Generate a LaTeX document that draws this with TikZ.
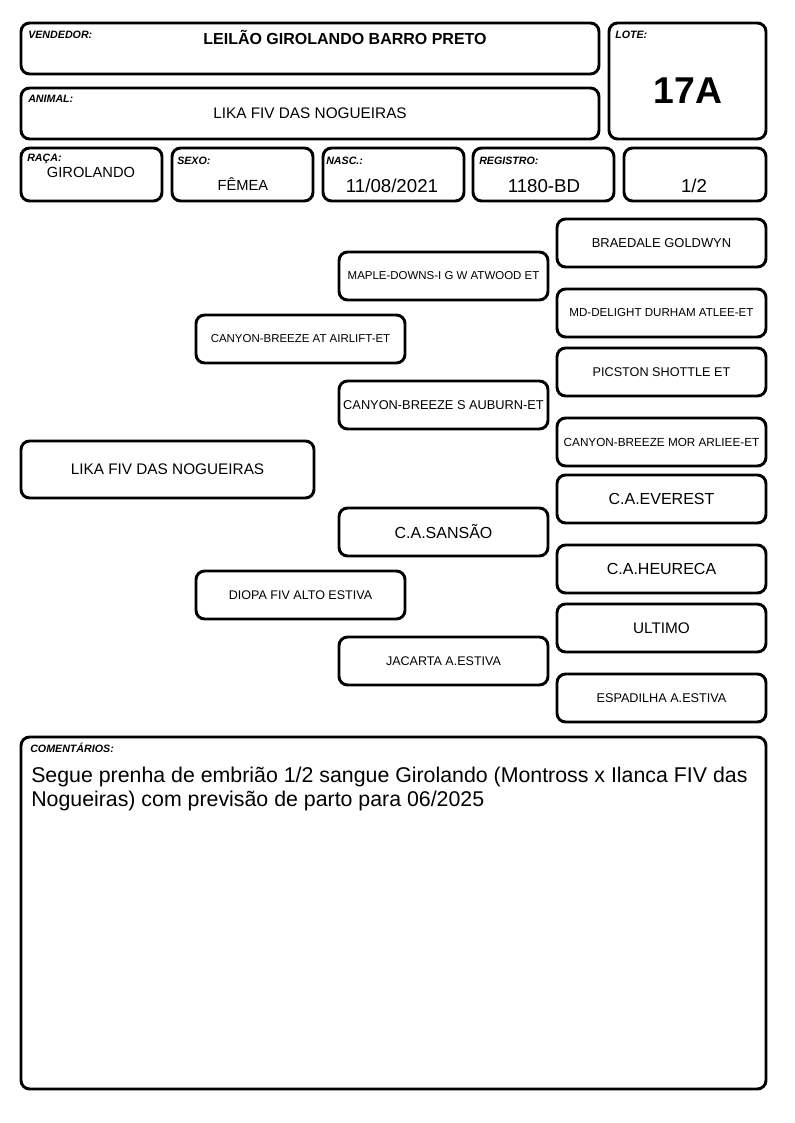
\documentclass[tikz,border=0pt]{standalone}
\usepackage{fontspec}
\setmainfont{Liberation Sans}
\usepackage{tikz}
\usetikzlibrary{positioning}

\newcommand{\fsz}[1]{\fontsize{#1}{#1}\selectfont}

\tikzset{
  ficha/.style={draw=black, line width=2.2pt, rounded corners=6.5pt, inner sep=0pt},
  wh/.style 2 args={minimum width=#1*0.75pt, minimum height=#2*0.75pt},
  rotulo/.style={font=\bfseries\itshape\fsz{8}, inner sep=0pt, anchor=west},
  valor/.style={inner sep=0pt},
  ped/.style={ficha, wh={209}{48}},
}

\begin{document}
\begin{tikzpicture}[x=0.75pt, y=-0.75pt]
  \useasboundingbox (0,0) rectangle (794,1123);

  % Cabecalho
  \node[ficha, wh={578}{51}] (vendedor) at (310,48.5) {};
  \node[ficha, wh={578}{51}] (animal) at (310,113.5) {};
  \node[ficha, wh={157}{116}] (lote) at (687.5,81) {};
  \node[rotulo] (vendedorTag) at (28,35) {VENDEDOR:};
  \node[valor, font=\bfseries\fsz{12}] (vendedorTxt) at (345,37) {LEILÃO GIROLANDO BARRO PRETO};
  \node[rotulo] (animalTag) at (28,99) {ANIMAL:};
  \node[valor, font=\fsz{11.5}] (animalTxt) at (310,113) {LIKA FIV DAS NOGUEIRAS};
  \node[rotulo] (loteTag) at (615,35) {LOTE:};
  \node[valor, font=\bfseries\fsz{28}] (loteTxt) at (688,91) {17A};

  % Dados do animal
  \node[ficha, wh={141}{53}] (raca) at (91.5,174.5) {};
  \node[ficha, wh={141}{53}] (sexo) at (242.5,174.5) {};
  \node[ficha, wh={141}{53}] (nasc) at (393.5,174.5) {};
  \node[ficha, wh={141}{53}] (registro) at (543.5,174.5) {};
  \node[ficha, wh={142}{53}] (fracao) at (695,174.5) {};
  \node[rotulo] (racaTag) at (27,159) {RAÇA:};
  \node[valor, font=\fsz{11}] (racaTxt) at (91,172) {GIROLANDO};
  \node[rotulo] (sexoTag) at (177,161) {SEXO:};
  \node[valor, font=\fsz{11}] (sexoTxt) at (243,184) {FÊMEA};
  \node[rotulo] (nascTag) at (326,161) {NASC.:};
  \node[valor, font=\fsz{14}] (nascTxt) at (392,186) {11/08/2021};
  \node[rotulo] (registroTag) at (479,161) {REGISTRO:};
  \node[valor, font=\fsz{14}] (registroTxt) at (544,186) {1180-BD};
  \node[valor, font=\fsz{14}] (fracaoTxt) at (694,186) {1/2};

  % Genealogia
  \node[ficha, wh={293}{57}, font=\fsz{11.5}] (p) at (167.5,469.5) {LIKA FIV DAS NOGUEIRAS};
  \node[ped, font=\fsz{8.6}] (s) at (300.5,339) {CANYON-BREEZE AT AIRLIFT-ET};
  \node[ped, font=\fsz{9.4}] (d) at (300.5,595) {DIOPA FIV ALTO ESTIVA};
  \node[ped, font=\fsz{8.6}] (ss) at (443.5,276) {MAPLE-DOWNS-I G W ATWOOD ET};
  \node[ped, font=\fsz{9.6}] (sd) at (443.5,405) {CANYON-BREEZE S AUBURN-ET};
  \node[ped, font=\fsz{12}] (ds) at (443.5,532) {C.A.SANSÃO};
  \node[ped, font=\fsz{9.4}] (dd) at (443.5,661) {JACARTA A.ESTIVA};
  \node[ped, font=\fsz{9.7}] (sss) at (661.5,243) {BRAEDALE GOLDWYN};
  \node[ped, font=\fsz{8.7}] (ssd) at (661.5,313) {MD-DELIGHT DURHAM ATLEE-ET};
  \node[ped, font=\fsz{9.5}] (sds) at (661.5,372) {PICSTON SHOTTLE ET};
  \node[ped, font=\fsz{8.8}] (sdd) at (661.5,442) {CANYON-BREEZE MOR ARLIEE-ET};
  \node[ped, font=\fsz{12}] (dss) at (661.5,499) {C.A.EVEREST};
  \node[ped, font=\fsz{12}] (dsd) at (661.5,569) {C.A.HEURECA};
  \node[ped, font=\fsz{11.5}] (dds) at (661.5,628) {ULTIMO};
  \node[ped, font=\fsz{9.5}] (ddd) at (661.5,698) {ESPADILHA A.ESTIVA};

  % Comentarios
  \node[ficha, wh={745}{352}] (coment) at (393.5,913) {};
  \node[rotulo] (comentTag) at (30,748) {COMENTÁRIOS:};
  \node[valor, font=\fsz{16}, anchor=base west] (coment1) at (31,782)
    {Segue prenha de embrião 1/2 sangue Girolando (Montross x Ilanca FIV das};
  \node[valor, font=\fsz{16}, anchor=base west] (coment2) at (31,806)
    {Nogueiras) com previsão de parto para 06/2025};
\end{tikzpicture}
\end{document}
